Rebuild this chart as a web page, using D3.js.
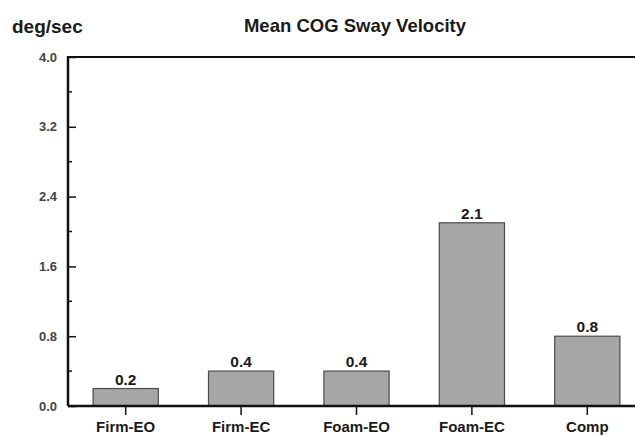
<!DOCTYPE html>
<html>
<head>
<meta charset="utf-8">
<script src="https://cdn.jsdelivr.net/npm/d3@7"></script>
<style>
  body { margin: 0; background: #fff; overflow: hidden; }
  svg { display: block; font-family: "Liberation Sans", Arial, sans-serif; }
</style>
</head>
<body>
<svg width="635" height="437"></svg>
<script>
  var categories = ["Firm-EO", "Firm-EC", "Foam-EO", "Foam-EC", "Comp"];
  var values = [0.2, 0.4, 0.4, 2.1, 0.8];
  var yTicks = [0, 0.8, 1.6, 2.4, 3.2, 4.0];
  var yMinorTicks = [0.4, 1.2, 2.0, 2.8, 3.6];

  var svg = d3.select("svg");
  var margin = { top: 57, left: 68, bottom: 31 };
  var innerHeight = 437 - margin.top - margin.bottom;
  var innerWidth = 577;

  var xScale = d3.scaleBand()
    .domain(categories)
    .range([0, innerWidth])
    .paddingInner(0.435)
    .paddingOuter(0.2175);

  var yScale = d3.scaleLinear()
    .domain([0, 4])
    .range([innerHeight, 0]);

  var g = svg.append("g")
    .attr("transform", "translate(" + margin.left + "," + margin.top + ")");

  // headings
  svg.append("text")
    .text("deg/sec")
    .attr("x", 12).attr("y", 33)
    .attr("font-size", 19).attr("font-weight", "bold").attr("fill", "#1a1a1a");

  svg.append("text")
    .text("Mean COG Sway Velocity")
    .attr("x", 355).attr("y", 32)
    .attr("text-anchor", "middle")
    .attr("font-size", 18.5).attr("font-weight", "bold").attr("fill", "#1a1a1a");

  // bars
  g.selectAll("rect.bar")
    .data(values)
    .enter().append("rect")
    .attr("class", "bar")
    .attr("x", function (d, i) { return xScale(categories[i]); })
    .attr("width", xScale.bandwidth())
    .attr("y", function (d) { return yScale(d); })
    .attr("height", function (d) { return innerHeight - yScale(d); })
    .attr("fill", "#a6a6a6")
    .attr("stroke", "#4a4a4a")
    .attr("stroke-width", 1.2);

  // value labels
  g.selectAll("text.val")
    .data(values)
    .enter().append("text")
    .attr("class", "val")
    .text(function (d) { return d.toFixed(1); })
    .attr("x", function (d, i) { return xScale(categories[i]) + xScale.bandwidth() / 2; })
    .attr("y", function (d) { return yScale(d) - 4; })
    .attr("text-anchor", "middle")
    .attr("font-size", 15.5).attr("font-weight", "bold").attr("fill", "#1a1a1a");

  // top frame line
  g.append("line")
    .attr("x1", 0).attr("x2", innerWidth)
    .attr("y1", 0).attr("y2", 0)
    .attr("stroke", "#111").attr("stroke-width", 2);

  // minor y ticks
  g.selectAll("line.minor")
    .data(yMinorTicks)
    .enter().append("line")
    .attr("class", "minor")
    .attr("x1", 0).attr("x2", 4)
    .attr("y1", function (d) { return yScale(d); })
    .attr("y2", function (d) { return yScale(d); })
    .attr("stroke", "#111").attr("stroke-width", 1.5);

  // y axis
  var yAxis = d3.axisLeft(yScale)
    .tickValues(yTicks)
    .tickFormat(d3.format(".1f"))
    .tickSize(0)
    .tickPadding(11);

  var yAxisGroup = g.append("g").call(yAxis);
  yAxisGroup.select(".domain").remove();
  yAxisGroup.selectAll(".tick text")
    .attr("font-size", 13).attr("font-weight", "bold").attr("fill", "#444");
  yAxisGroup.selectAll(".tick")
    .append("line")
    .attr("x1", 0).attr("x2", 8)
    .attr("stroke", "#111").attr("stroke-width", 1.5);

  g.append("line")
    .attr("x1", 0).attr("x2", 0)
    .attr("y1", -1).attr("y2", innerHeight)
    .attr("stroke", "#111").attr("stroke-width", 2.5);

  // x axis
  var xAxis = d3.axisBottom(xScale).tickSize(9).tickPadding(6);
  var xAxisGroup = g.append("g")
    .attr("transform", "translate(0," + innerHeight + ")")
    .call(xAxis);
  xAxisGroup.select(".domain").remove();
  xAxisGroup.selectAll(".tick line").attr("stroke", "#111").attr("stroke-width", 1.5);
  xAxisGroup.selectAll(".tick text")
    .attr("dy", null)
    .attr("y", 26)
    .attr("font-size", 15).attr("font-weight", "bold").attr("fill", "#1a1a1a");

  g.append("line")
    .attr("x1", 0).attr("x2", innerWidth)
    .attr("y1", innerHeight).attr("y2", innerHeight)
    .attr("stroke", "#111").attr("stroke-width", 2.5);
</script>
</body>
</html>
